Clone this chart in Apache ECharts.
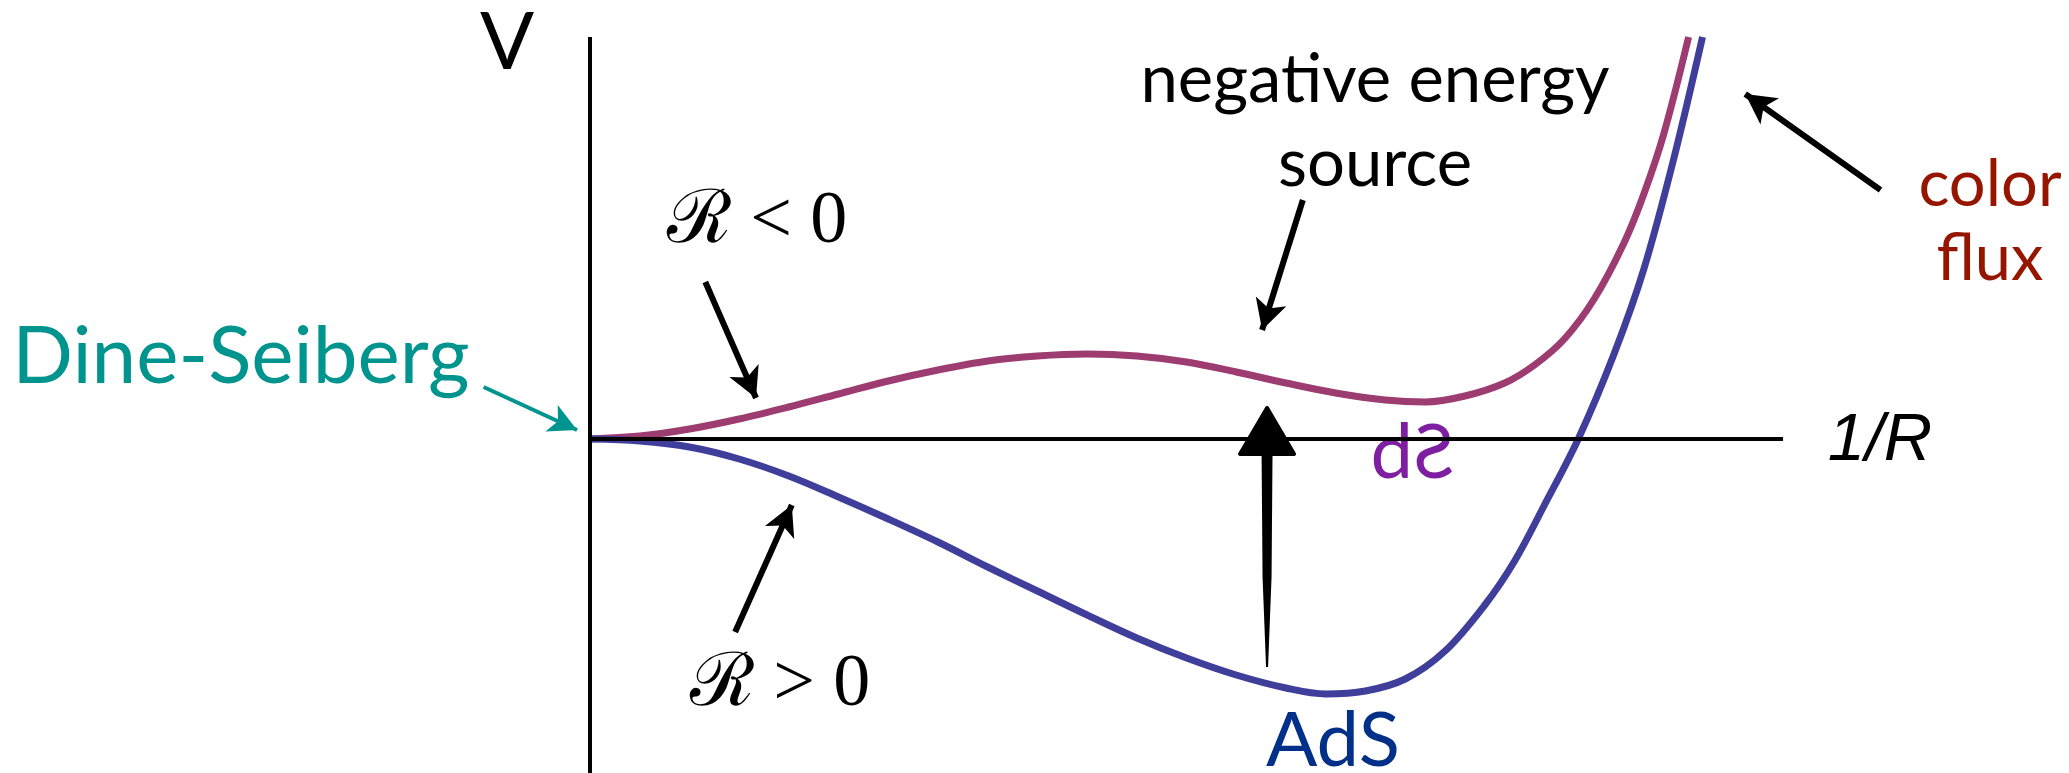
<!DOCTYPE html>
<html>
<head>
<meta charset="utf-8">
<script src="https://cdn.jsdelivr.net/npm/echarts@6/dist/echarts.min.js"></script>
<style>
  html, body { margin: 0; padding: 0; background: #fff; }
  #chart { width: 2069px; height: 773px; }
</style>
</head>
<body>
<div id="chart"></div>
<script>
// x = 1/R, y = V (arbitrary units)
const dsX = [0, 0.5, 1.0, 1.5, 2.0, 2.5, 3.0, 3.5, 4.0, 4.5, 5.0, 5.5, 6.0, 6.5, 7.0, 7.5, 8.0, 8.4, 8.8, 9.2, 9.5, 9.8, 10.1, 10.4, 10.6, 10.8, 11.05];
const dsV = [0, 0.03, 0.10, 0.20, 0.32, 0.45, 0.58, 0.69, 0.78, 0.83, 0.85, 0.83, 0.77, 0.67, 0.56, 0.46, 0.39, 0.37, 0.43, 0.56, 0.74, 1.00, 1.40, 1.96, 2.45, 3.05, 4.02];

const adsX = [0, 0.5, 1.0, 1.5, 2.0, 2.5, 3.0, 3.5, 4.0, 4.5, 5.0, 5.5, 6.0, 6.5, 7.0, 7.4, 7.8, 8.2, 8.6, 9.0, 9.3, 9.6, 9.94, 10.3, 10.6, 10.9, 11.19];
const adsV = [0, -0.02, -0.08, -0.20, -0.37, -0.58, -0.80, -1.03, -1.28, -1.52, -1.76, -1.99, -2.19, -2.36, -2.49, -2.55, -2.52, -2.40, -2.12, -1.66, -1.22, -0.66, 0, 0.85, 1.70, 2.80, 4.02];

// axis extents and annotation arrows: [fromX, fromY, toX, toY]
const xAxisLine = [0, 0, 12, 0];
const yAxisLine = [0, -3.34, 0, 4.02];
const blackArrows = [
  [1.16, 1.57, 1.67, 0.41],    // R < 0
  [1.46, -1.93, 2.03, -0.66],  // R > 0
  [7.17, 2.39, 6.76, 1.09],    // negative energy source
  [12.98, 2.49, 11.62, 3.45]   // color flux
];
const tealArrow = [-1.07, 0.52, -0.13, 0.09];
const upliftArrow = [6.81, -2.28, 6.81, 0.31];

const toPairs = (xs, ys) => xs.map((x, i) => [x, ys[i]]);
const lineData = (a) => [{ coord: [a[0], a[1]] }, { coord: [a[2], a[3]] }];

const chart = echarts.init(document.getElementById('chart'));

const FONT = 'Lato, "Open Sans", sans-serif';
const SERIF = '"Liberation Serif", "DejaVu Serif", serif';
const txt = (text, x, y, font, color, extra) => Object.assign({
  type: 'text', x: x, y: y, silent: true,
  style: { text: text, fill: color, font: font, textAlign: 'center', textVerticalAlign: 'middle' }
}, extra || {});

const arrowSeries = (arrows, color, width, size) => ({
  type: 'line', data: [],
  markLine: {
    silent: true, animation: false, symbol: ['none', 'arrow'], symbolSize: size,
    label: { show: false },
    lineStyle: { color: color, width: width, type: 'solid' },
    emphasis: { disabled: true },
    data: arrows.map(lineData)
  }
});

// thick arrow with a tapering tail, from AdS up to dS
const renderUplift = (params, api) => {
  const tail = api.coord([api.value(0), api.value(1)]);
  const tip = api.coord([api.value(2), api.value(3)]);
  const x = tip[0];
  const headH = 46, headW = 54, shaftW = 11;
  const baseY = tip[1] + headH;
  return {
    type: 'group',
    children: [
      {
        type: 'polygon',
        shape: { points: [
          [x - shaftW / 2, baseY - 4], [x + shaftW / 2, baseY - 4],
          [x + shaftW / 2 - 1, tail[1] - 90], [x + 1, tail[1]], [x - 1, tail[1]],
          [x - shaftW / 2 + 1, tail[1] - 90]
        ] },
        style: { fill: '#000' }
      },
      {
        type: 'polygon',
        shape: { points: [[x, tip[1]], [x + headW / 2, baseY], [x - headW / 2, baseY]] },
        style: { fill: '#000', stroke: '#000', lineWidth: 4, lineJoin: 'round' }
      }
    ]
  };
};

chart.setOption({
  animation: false,
  grid: { left: 0, right: 0, top: 0, bottom: 0 },
  xAxis: { type: 'value', min: -5.934, max: 14.876, show: false },
  yAxis: { type: 'value', min: -3.34, max: 4.39, show: false },
  series: [
    {
      type: 'line', data: [],
      markLine: {
        silent: true, animation: false, symbol: ['none', 'none'],
        label: { show: false },
        lineStyle: { color: '#000', width: 4, type: 'solid' },
        data: [lineData(xAxisLine), lineData(yAxisLine)]
      }
    },
    {
      name: 'dS', type: 'line', data: toPairs(dsX, dsV), smooth: 0.35, showSymbol: false,
      lineStyle: { color: '#9c3c71', width: 7 }
    },
    {
      name: 'AdS', type: 'line', data: toPairs(adsX, adsV), smooth: 0.35, showSymbol: false,
      lineStyle: { color: '#403e9b', width: 7 }
    },
    arrowSeries(blackArrows, '#000', 6, [24, 30]),
    arrowSeries([tealArrow], '#00948f', 4, [22, 28]),
    {
      type: 'custom', data: [upliftArrow], renderItem: renderUplift, silent: true
    }
  ],
  graphic: [
    txt('V', 507, 43, '80px ' + FONT, '#000'),
    txt('negative energy', 1375, 80, '67px ' + FONT, '#000'),
    txt('source', 1375, 164, '67px ' + FONT, '#000'),
    txt('color', 1990, 185, '65px ' + FONT, '#951500'),
    txt('flux', 1990, 259, '65px ' + FONT, '#951500'),
    txt('Dine-Seiberg', 241, 357, '80px ' + FONT, '#00948f'),
    txt('d', 1413, 453, '76px ' + FONT, '#7d1fa0', { style: { text: 'd', fill: '#7d1fa0', font: '76px ' + FONT, textAlign: 'right', textVerticalAlign: 'middle' } }),
    txt('S', 1434, 453, '76px ' + FONT, '#7d1fa0', { scaleX: -1 }),
    txt('AdS', 1333, 741, '76px ' + FONT, '#003087'),
    txt('1/R', 1880, 441, 'italic 67px "Liberation Sans", Arial, sans-serif', '#000'),
    txt('ℛ < 0', 757, 223, '74px ' + SERIF, '#000'),
    txt('ℛ > 0', 780, 686, '74px ' + SERIF, '#000')
  ]
});

window.addEventListener('resize', () => chart.resize());
</script>
</body>
</html>
